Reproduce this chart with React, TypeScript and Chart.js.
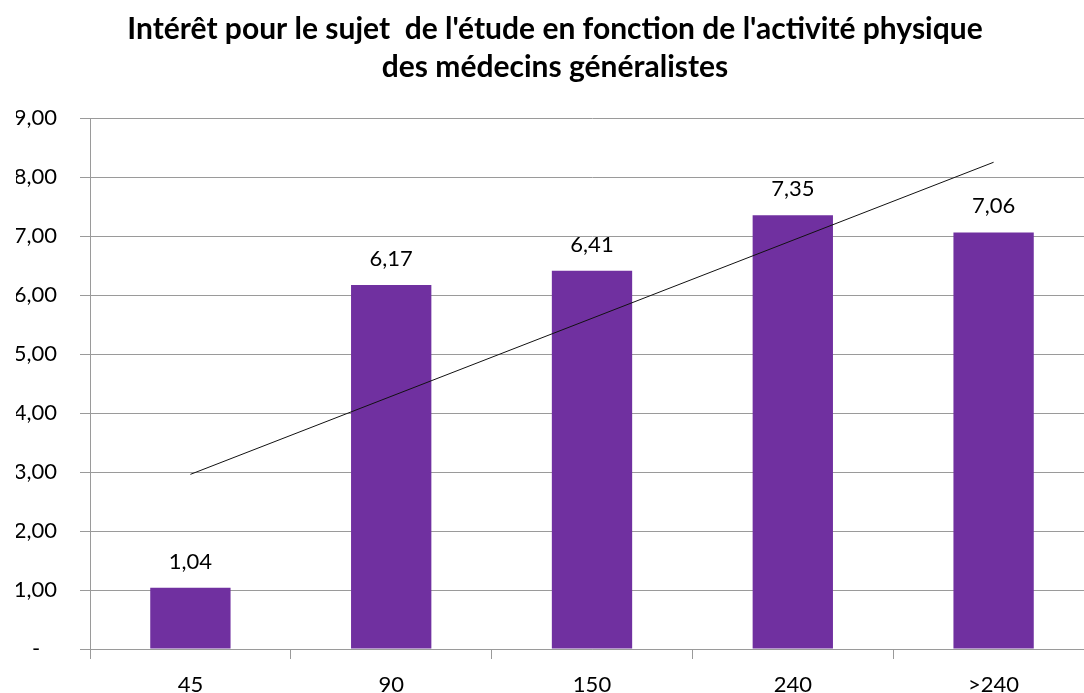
import React, { useEffect, useRef } from "react";
import { Chart, registerables } from "chart.js";

Chart.register(...registerables);

const categories: string[] = ["45", "90", "150", "240", ">240"];
const values: number[] = [1.04, 6.17, 6.41, 7.35, 7.06];
// Linear trendline end points
const trendValues: (number | null)[] = [2.96, null, null, null, 8.25];
const titleLines: string[] = [
  "Intérêt pour le sujet  de l'étude en fonction de l'activité physique",
  "des médecins généralistes",
];
const yMin = 0;
const yMax = 9;
const yStep = 1;

const FONT = "Lato";
const GRID = "#9a9a9a";
const BAR = "#7030A0";

const fmt = (v: number) => v.toFixed(2).replace(".", ",");

const labelPlugin = {
  id: "barValueLabels",
  afterDatasetsDraw(chart: any) {
    const meta = chart.getDatasetMeta(0);
    const ctx = chart.ctx;
    ctx.save();
    ctx.font = `22px ${FONT}`;
    ctx.fillStyle = "#000";
    ctx.textAlign = "center";
    ctx.textBaseline = "alphabetic";
    meta.data.forEach((bar: any, i: number) => {
      ctx.fillText(fmt(values[i]), bar.x, bar.y - 19);
    });
    ctx.restore();
  },
};

export default function App() {
  const ref = useRef<HTMLCanvasElement | null>(null);

  useEffect(() => {
    document.body.style.margin = "0";
    document.body.style.overflow = "hidden";
    if (!ref.current) return;
    const chart = new Chart(ref.current, {
      type: "bar",
      data: {
        labels: categories,
        datasets: [
          {
            type: "bar",
            data: values,
            backgroundColor: BAR,
            borderWidth: 0,
            categoryPercentage: 1,
            barPercentage: 0.4,
            order: 2,
          } as any,
          {
            type: "line",
            data: trendValues,
            borderColor: "#111",
            borderWidth: 1,
            pointRadius: 0,
            spanGaps: true,
            tension: 0,
            fill: false,
            order: 1,
          } as any,
        ],
      },
      options: {
        responsive: false,
        animation: false,
        devicePixelRatio: 1,
        layout: { padding: { left: 16, right: 23, top: 0, bottom: 0 } },
        plugins: {
          legend: { display: false },
          tooltip: { enabled: false },
          title: {
            display: true,
            text: titleLines,
            color: "#000",
            font: { family: FONT, size: 30, weight: "bold", lineHeight: 38 / 30 },
            padding: { top: 10, bottom: 32 },
          },
        },
        scales: {
          x: {
            grid: {
              drawOnChartArea: false,
              drawTicks: true,
              tickLength: 10,
              color: GRID,
              offset: true,
            },
            border: { color: GRID },
            ticks: {
              font: { family: FONT, size: 22 },
              color: "#000",
              padding: 13,
              maxRotation: 0,
            },
            afterFit: (s: any) => {
              s.height = 44;
            },
          },
          y: {
            min: yMin,
            max: yMax,
            ticks: {
              stepSize: yStep,
              font: { family: FONT, size: 22 },
              color: "#000",
              padding: 23,
              callback: (v: any) => (Number(v) === 0 ? "-   " : fmt(Number(v))),
            },
            grid: { color: GRID, tickLength: 10, drawTicks: true },
            border: { color: GRID },
            afterFit: (s: any) => {
              s.width = 74;
            },
          },
        },
      },
      plugins: [labelPlugin],
    });
    return () => chart.destroy();
  }, []);

  return (
    <div style={{ width: 1084, height: 693, overflow: "hidden", position: "relative" }}>
      <canvas ref={ref} width={1117} height={693} style={{ display: "block", width: 1117, height: 693 }} />
    </div>
  );
}
